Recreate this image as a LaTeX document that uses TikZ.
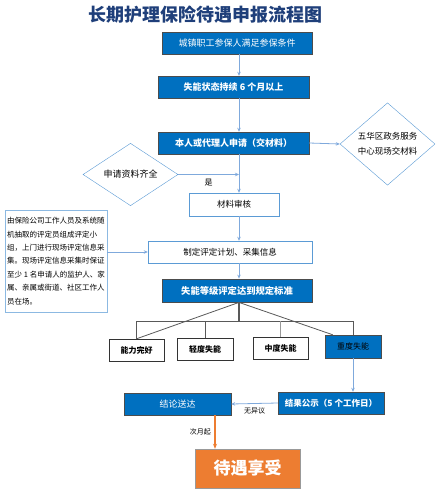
\documentclass[tikz,border=0pt]{standalone}
\usepackage{fontspec}
\setmainfont{Noto Sans CJK SC}
\usetikzlibrary{shapes.geometric,arrows.meta}
\definecolor{boxblue}{HTML}{0070C0}
\definecolor{lineblue}{HTML}{7FA9DC}
\definecolor{edgeblue}{HTML}{5B9BD5}
\definecolor{titleblue}{HTML}{1F3F7A}
\definecolor{jiorange}{HTML}{ED7D31}
\begin{document}
\begin{tikzpicture}[x=1pt,y=-1pt,
	lanhe/.style={draw=black!70,fill=boxblue,text=white,inner sep=0pt,minimum height=22pt,font=\fontsize{9}{10}\selectfont\bfseries},
	baihe/.style={draw=edgeblue,fill=white,inner sep=0pt,minimum height=22pt,font=\fontsize{8.5}{10}\selectfont},
	jibie/.style={draw=black!80,fill=white,inner sep=0pt,minimum width=55pt,minimum height=22pt,font=\fontsize{8}{10}\selectfont\bfseries},
	panduan/.style={diamond,draw=edgeblue,fill=white,inner sep=0pt,align=center,font=\fontsize{8.5}{15}\selectfont},
	liu/.style={-{Stealth[length=4pt,width=3.5pt]},draw=lineblue,line width=0.8pt},
	shu/.style={draw=black!65,line width=0.8pt},
	biao/.style={text=black,font=\fontsize{7}{8}\selectfont}]
	\useasboundingbox (0,0) rectangle (439,500);
	\coordinate (col) at (239,0);
	\coordinate (ju) at (215,0);
	\node[font=\fontsize{18}{20}\selectfont\bfseries,text=titleblue] (biaoti) at (205.5,15) {长期护理保险待遇申报流程图};
	\node[lanhe,minimum width=150pt,font=\fontsize{9}{10}\selectfont] (chengzhen) at (237,43) {城镇职工参保人满足参保条件};
	\node[lanhe,minimum width=151pt] (shineng) at (233.5,87) {失能状态持续 6 个月以上};
	\node[lanhe,minimum width=151pt] (shenqing) at (233.5,143) {本人或代理人申请（交材料）};
	\node[panduan,minimum width=95pt,minimum height=52pt] (wuhua) at (387.5,144) {五华区政务服务\\中心现场交材料};
	\node[panduan,minimum width=95pt,minimum height=27pt,font=\fontsize{9}{10}\selectfont] (ziliao) at (130.5,174.5) {申请资料齐全};
	\node[baihe,minimum width=90pt,minimum height=23pt] (shenhe) at (234,204.5) {材料审核};
	\node[baihe,minimum width=164pt] (zhiding) at (230,252) {制定评定计划、采集信息};
	\node[lanhe,minimum width=150pt,minimum height=23pt,line width=0.8pt,font=\fontsize{9.3}{10}\selectfont\bfseries] (pingding) at (237,290.5) {失能等级评定达到规定标准};
	\node[draw=edgeblue!70,line width=0.8pt,minimum width=102pt,minimum height=102pt,inner sep=1pt,align=left,font=\fontsize{7.5}{13.4}\selectfont] (shuoming) at (56,261) {由保险公司工作人员及系统随\\机抽取的评定员组成评定小\\组，上门进行现场评定信息采\\集。现场评定信息采集时保证\\至少 1 名申请人的监护人、家\\属、亲属或街道、社区工作人\\员在场。};
	\node[jibie] (nengli) at (136.5,350) {能力完好};
	\node[jibie,minimum width=56pt] (qingdu) at (205,349) {轻度失能};
	\node[jibie] (zhongdu) at (280.5,348) {中度失能};
	\node[jibie,fill=boxblue,draw=black!70,minimum width=56pt,minimum height=23pt,font=\fontsize{8}{10}\selectfont] (chongdu) at (353,346.5) {重度失能};
	\node[lanhe,minimum width=106pt,font=\fontsize{8.5}{10}\selectfont\bfseries] (gongshi) at (331,403) {结果公示（5 个工作日）};
	\node[lanhe,minimum width=107pt,font=\fontsize{9}{10}\selectfont] (songda) at (177.5,404) {结论送达};
	\node[draw=black!40,fill=jiorange,text=white,minimum width=105pt,minimum height=39pt,inner sep=0pt,font=\fontsize{17}{18}\selectfont\bfseries] (xiangshou) at (247.5,468.5) {待遇享受};
	\draw[liu] (chengzhen.south -| col) -- (shineng.north -| col);
	\draw[liu] (shineng.south -| col) -- (shenqing.north -| col);
	\draw[liu] (shenqing.east) -- (wuhua.west);
	\draw[liu] (shenqing.south -| col) -- (shenhe.north -| col);
	\draw[liu] (ziliao.east) -- (ziliao.east -| col) node[midway,below=1pt,biao,font=\fontsize{8}{9}\selectfont]{是};
	\draw[liu] (shenhe.south -| col) -- (zhiding.north -| col);
	\draw[liu] (shuoming.east |- zhiding) -- (zhiding.west);
	\draw[liu] (zhiding.south -| col) -- (pingding.north -| col);
	\coordinate (fen) at (pingding.south -| col);
	\coordinate (zhu) at (239,321);
	\draw[shu,line width=1.6pt] (fen) -- (zhu);
	\draw[shu] (nengli.north) -- (nengli.north |- zhu) -- (chongdu.north |- zhu) -- (chongdu.north);
	\draw[shu] (qingdu.north) -- (qingdu.north |- zhu);
	\draw[shu,draw=black!40] (zhongdu.north) -- (zhongdu.north |- zhu);
	\draw[shu] (fen) -- (nengli.north);
	\draw[shu] (fen) -- ([xshift=8pt]chongdu.north west);
	\draw[liu] (chongdu.south) -- (chongdu.south |- gongshi.north);
	\draw[liu] (gongshi.west) -- (songda.east) node[midway,below=1pt,biao]{无异议};
	\draw[-{Stealth[length=5pt,width=4pt]},jiorange,line width=1.6pt] (songda.south -| ju) -- (xiangshou.north -| ju) node[midway,left,biao]{次月起};
\end{tikzpicture}
\end{document}
